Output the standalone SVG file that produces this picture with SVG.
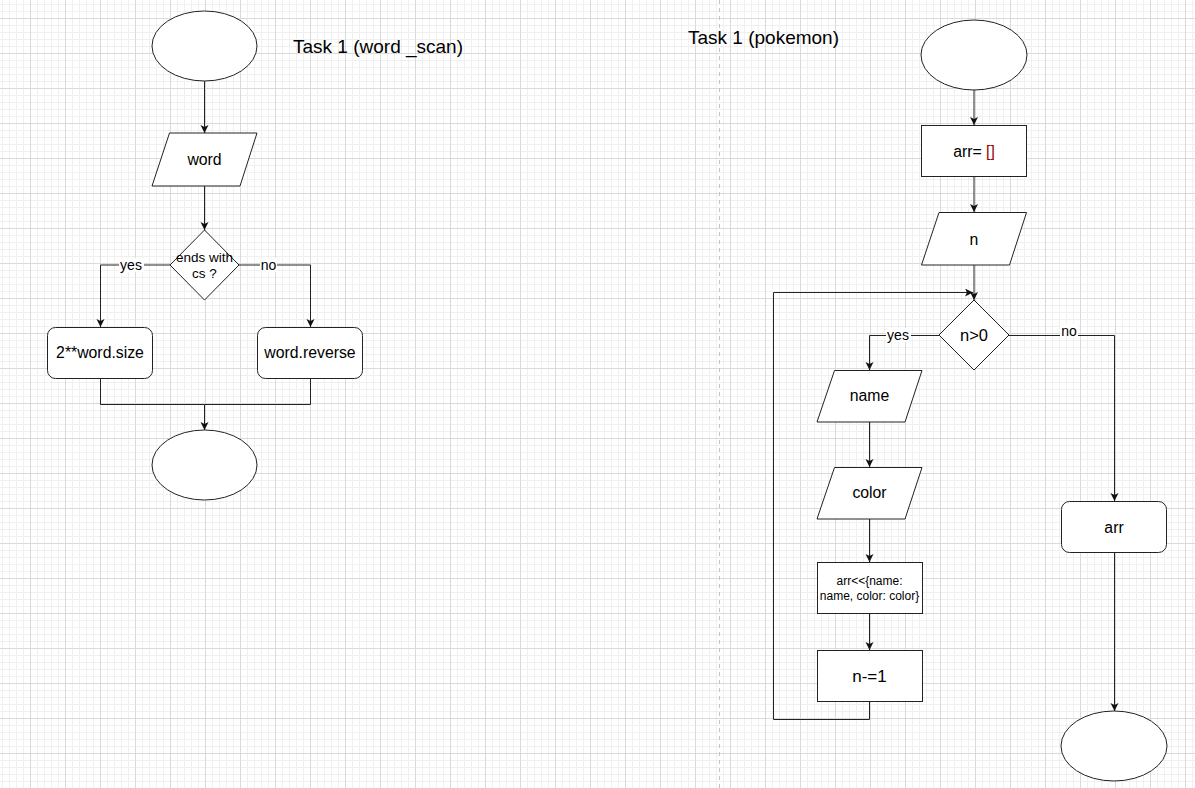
<svg xmlns="http://www.w3.org/2000/svg" width="1195" height="788" viewBox="0 0 1195 788">
  <defs>
    <pattern id="grid" x="30" y="18" width="35" height="35" patternUnits="userSpaceOnUse">
      <path d="M7.5,0V35M14.5,0V35M21.5,0V35M28.5,0V35M0,7.5H35M0,14.5H35M0,21.5H35M0,28.5H35" stroke="#f0f0f0" stroke-width="1" fill="none"/>
      <path d="M0.5,0V35M0,0.5H35" stroke="#dadada" stroke-width="1" fill="none"/>
    </pattern>
    <marker id="arrow" markerUnits="userSpaceOnUse" markerWidth="10" markerHeight="10" refX="8" refY="4" orient="auto">
      <path d="M0,0 L8,4 L0,8 L2,4 z" fill="#111"/>
    </marker>
    <style>
      .shape { fill: #fff; stroke: #222; stroke-width: 1; }
      .edge { fill: none; stroke: #222; stroke-width: 1; }
      .lbl { font-family: "Liberation Sans", Arial, sans-serif; fill: #000; text-anchor: middle; }
      .t16 { font-size: 15.8px; }
      .small { font-size: 13.5px; }
      .tiny { font-size: 12px; }
      .edgelbl { font-size: 14px; }
      .title { font-family: "Liberation Sans", Arial, sans-serif; font-size: 19px; fill: #000; }
      .lblbg { fill: #fff; }
    </style>
  </defs>

  <!-- canvas grid -->
  <rect width="1195" height="788" fill="#fff"/>
  <rect width="1195" height="788" fill="url(#grid)"/>
  <line x1="719.5" y1="0" x2="719.5" y2="788" stroke="#c4c4c4" stroke-width="1" stroke-dasharray="4,4"/>

  <!-- titles -->
  <text class="title" x="293" y="53">Task 1 (word _scan)</text>
  <text class="title" x="688" y="44">Task 1 (pokemon)</text>

  <!-- connectors -->
  <g id="connectors">
    <!-- word_scan flow -->
    <path class="edge" d="M204.5,81 V133" marker-end="url(#arrow)"/>
    <path class="edge" d="M204.5,186 V230" marker-end="url(#arrow)"/>
    <path class="edge" d="M170,265 H100.5 V327" marker-end="url(#arrow)"/>
    <path class="edge" d="M239,265 H310.5 V327" marker-end="url(#arrow)"/>
    <path class="edge" d="M100.5,378 V404.5 H204.5 V430" marker-end="url(#arrow)"/>
    <path class="edge" d="M310.5,378 V404.5 H204.5"/>
    <rect class="lblbg" x="119" y="258" width="25" height="14"/>
    <text class="lbl edgelbl" x="131" y="270">yes</text>
    <rect class="lblbg" x="260" y="258" width="17" height="14"/>
    <text class="lbl edgelbl" x="268.5" y="270">no</text>

    <!-- pokemon flow -->
    <path class="edge" d="M974,90 V125" marker-end="url(#arrow)"/>
    <path class="edge" d="M974,177 V212" marker-end="url(#arrow)"/>
    <path class="edge" d="M974,265 V300" marker-end="url(#arrow)"/>
    <path class="edge" d="M939,335.5 H869.5 V370" marker-end="url(#arrow)"/>
    <path class="edge" d="M869.5,422 V467" marker-end="url(#arrow)"/>
    <path class="edge" d="M869.5,519 V562" marker-end="url(#arrow)"/>
    <path class="edge" d="M869.5,614 V650" marker-end="url(#arrow)"/>
    <path class="edge" d="M869.5,702 V719.5 H773.5 V292.5 H973" marker-end="url(#arrow)"/>
    <path class="edge" d="M1009,335.5 H1114.5 V501" marker-end="url(#arrow)"/>
    <path class="edge" d="M1114.5,553 V711" marker-end="url(#arrow)"/>
    <rect class="lblbg" x="886" y="328" width="25" height="14"/>
    <text class="lbl edgelbl" x="898" y="340">yes</text>
    <rect class="lblbg" x="1060" y="324" width="18" height="12"/>
    <text class="lbl edgelbl" x="1069" y="336">no</text>
  </g>

  <!-- word_scan nodes -->
  <g id="ws-start">
    <ellipse class="shape" cx="204.5" cy="46" rx="52.5" ry="35"/>
  </g>
  <g id="ws-input-word">
    <polygon class="shape" points="169.5,133 257,133 240,186 152,186"/>
    <text class="lbl t16" x="204.5" y="165">word</text>
  </g>
  <g id="ws-decision">
    <polygon class="shape" points="204.5,230 239,265 204.5,300 170,265"/>
    <text class="lbl small" x="204.5" y="262">ends with</text>
    <text class="lbl small" x="204.5" y="278">cs ?</text>
  </g>
  <g id="ws-pow">
    <rect class="shape" x="47.5" y="327.5" width="105" height="51" rx="8" ry="8"/>
    <text class="lbl t16" x="100" y="358">2**word.size</text>
  </g>
  <g id="ws-reverse">
    <rect class="shape" x="257.5" y="327.5" width="105" height="51" rx="8" ry="8"/>
    <text class="lbl t16" x="310" y="358">word.reverse</text>
  </g>
  <g id="ws-end">
    <ellipse class="shape" cx="204.5" cy="465" rx="52.5" ry="35"/>
  </g>

  <!-- pokemon nodes -->
  <g id="pk-start">
    <ellipse class="shape" cx="974" cy="55" rx="53" ry="35"/>
  </g>
  <g id="pk-init">
    <rect class="shape" x="921.5" y="125.5" width="105" height="51"/>
    <text class="lbl t16" x="974" y="157">arr= <tspan fill="#990000">[]</tspan></text>
  </g>
  <g id="pk-input-n">
    <polygon class="shape" points="939,212.5 1026.5,212.5 1009.5,265 921.5,265"/>
    <text class="lbl t16" x="974" y="245">n</text>
  </g>
  <g id="pk-decision">
    <polygon class="shape" points="974,300 1009,335 974,370 939,335"/>
    <text class="lbl" style="font-size:16.5px" x="974" y="341">n&gt;0</text>
  </g>
  <g id="pk-input-name">
    <polygon class="shape" points="834.5,370.5 922,370.5 905,422 817,422"/>
    <text class="lbl t16" x="869.5" y="401">name</text>
  </g>
  <g id="pk-input-color">
    <polygon class="shape" points="834.5,467.5 922,467.5 905,519 817,519"/>
    <text class="lbl t16" x="869.5" y="498">color</text>
  </g>
  <g id="pk-push">
    <rect class="shape" x="817.5" y="562.5" width="105" height="51"/>
    <text class="lbl tiny" x="869.5" y="585">arr&lt;&lt;{name:</text>
    <text class="lbl tiny" x="869.5" y="600">name, color: color}</text>
  </g>
  <g id="pk-decrement">
    <rect class="shape" x="817.5" y="650.5" width="105" height="51"/>
    <text class="lbl" style="font-size:17px" x="869.5" y="682">n-=1</text>
  </g>
  <g id="pk-output">
    <rect class="shape" x="1061.5" y="501.5" width="105" height="51" rx="8" ry="8"/>
    <text class="lbl t16" x="1114" y="533">arr</text>
  </g>
  <g id="pk-end">
    <ellipse class="shape" cx="1114" cy="746" rx="53" ry="35"/>
  </g>
</svg>
